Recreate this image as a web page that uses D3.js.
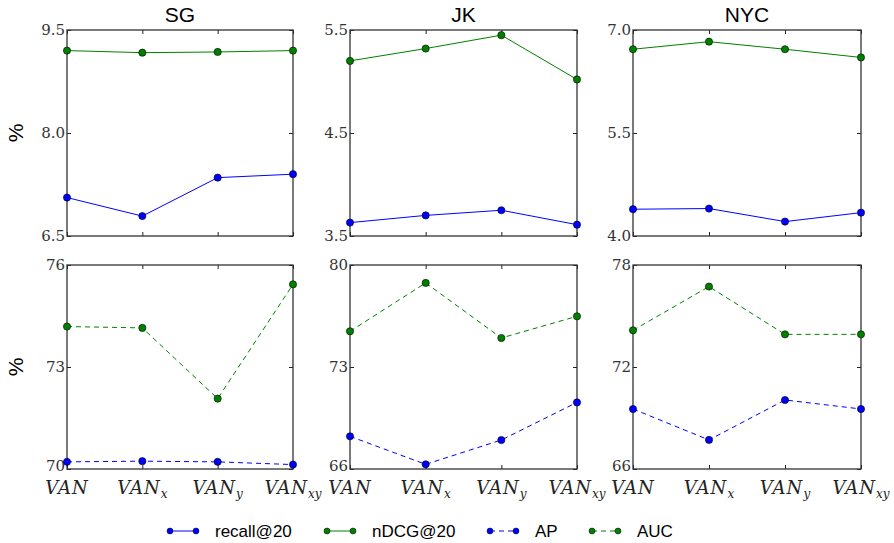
<!DOCTYPE html>
<html><head><meta charset="utf-8">
<script src="https://cdn.jsdelivr.net/npm/d3@7"></script>
<style>body{margin:0;background:#fff}
.serif{font-family:"DejaVu Serif",serif}
.sans{font-family:"Liberation Sans",Arial,Helvetica,sans-serif}
</style>
</head><body><svg id="c" width="894" height="543"></svg>
<script>
const categories = ["VAN","VAN_x","VAN_y","VAN_xy"];
const cities = ["SG","JK","NYC"];
// top row: recall@20 and nDCG@20 (%)
const recallSG = [7.06, 6.79, 7.35, 7.40];
const ndcgSG   = [9.20, 9.17, 9.18, 9.20];
const recallJK = [3.63, 3.70, 3.75, 3.61];
const ndcgJK   = [5.20, 5.32, 5.45, 5.02];
const recallNYC = [4.39, 4.40, 4.21, 4.34];
const ndcgNYC   = [6.72, 6.83, 6.72, 6.60];
// bottom row: AP and AUC (%)
const apSG  = [70.21, 70.23, 70.21, 70.13];
const aucSG = [74.19, 74.15, 72.07, 75.43];
const apJK  = [68.24, 66.32, 67.99, 70.57];
const aucJK = [75.45, 78.77, 74.99, 76.48];
const apNYC  = [69.53, 67.71, 70.06, 69.53];
const aucNYC = [74.16, 76.73, 73.92, 73.92];
// axis ticks
const topTicks = [[6.5, 8.0, 9.5],[3.5, 4.5, 5.5],[4.0, 5.5, 7.0]];
const botTicks = [[70, 73, 76],[66, 73, 80],[66, 72, 78]];
const legendLabels = ["recall@20","nDCG@20","AP","AUC"];

const BLUE = "#0000ff", GREEN = "#008000";
const svg = d3.select("#c");
const panelX = [[67,293],[350,577],[633,861]];
const rowY = [[30,236],[265,469]];
const topData = [[recallSG,ndcgSG],[recallJK,ndcgJK],[recallNYC,ndcgNYC]];
const botData = [[apSG,aucSG],[apJK,aucJK],[apNYC,aucNYC]];

function panel(ci, ri) {
  const [x0,x1] = panelX[ci], [y0,y1] = rowY[ri];
  const ticks = ri === 0 ? topTicks[ci] : botTicks[ci];
  const dec = ri === 0 ? 1 : 0;
  const x = d3.scalePoint().domain(categories).range([x0,x1]).padding(0);
  const y = d3.scaleLinear().domain([ticks[0], ticks[2]]).range([y1,y0]);
  const g = svg.append("g");
  const tl = 4;
  g.append("g").attr("transform",`translate(0,${y1})`)
    .call(d3.axisTop(x).tickSize(tl).tickFormat("")).call(a=>a.select(".domain").remove())
    .selectAll("line").attr("stroke","#222");
  g.append("g").attr("transform",`translate(0,${y0})`)
    .call(d3.axisBottom(x).tickSize(tl).tickFormat("")).call(a=>a.select(".domain").remove())
    .selectAll("line").attr("stroke","#222");
  const ly = g.append("g").attr("transform",`translate(${x0},0)`)
    .call(d3.axisRight(y).tickValues(ticks).tickSize(tl).tickFormat(""));
  ly.select(".domain").remove(); ly.selectAll("line").attr("stroke","#222");
  const ry = g.append("g").attr("transform",`translate(${x1},0)`)
    .call(d3.axisLeft(y).tickValues(ticks).tickSize(tl).tickFormat(""));
  ry.select(".domain").remove(); ry.selectAll("line").attr("stroke","#222");
  g.selectAll(".yl").data(ticks).enter().append("text").attr("class","serif")
    .attr("x", x0-2).attr("y", (d,i)=> y(d) - (ri===1 && i===0 ? 3 : 0)).attr("dy","0.35em")
    .attr("text-anchor","end")
    .attr("font-size",15).attr("fill","#333")
    .text(d=>d3.format(dec?".1f":"d")(d));
  g.append("rect").attr("x",x0).attr("y",y0).attr("width",x1-x0).attr("height",y1-y0)
    .attr("fill","none").attr("stroke","#333").attr("stroke-width",1.3);
  const data = ri === 0 ? topData[ci] : botData[ci];
  const colors = [BLUE, GREEN];
  data.forEach((vals,si)=>{
    const line = d3.line().x((d,i)=>x(categories[i])).y(d=>y(d));
    g.append("path").attr("d", line(vals)).attr("fill","none")
      .attr("stroke", colors[si]).attr("stroke-width",1)
      .attr("stroke-dasharray", ri===1 ? "5,4" : null);
    g.selectAll(null).data(vals).enter().append("circle")
      .attr("cx",(d,i)=>x(categories[i])).attr("cy",d=>y(d)).attr("r",3.6)
      .attr("fill",colors[si]).attr("stroke","#000").attr("stroke-width",0.6);
  });
  if (ri === 0) {
    svg.append("text").attr("class","sans").attr("x",(x0+x1)/2).attr("y",22).attr("text-anchor","middle")
      .attr("font-size",21).text(cities[ci]);
  } else {
    categories.forEach(c=>{
      const [base, sub] = c.split("_");
      const t = svg.append("text").attr("class","serif").attr("x", x(c)).attr("y",494).attr("text-anchor","middle")
        .attr("font-style","italic")
        .attr("font-size",18).attr("fill","#222");
      t.append("tspan").attr("letter-spacing",1).text(base);
      if (sub) t.append("tspan").attr("font-size",12).attr("dy",4).text(sub);
    });
  }
  if (ci === 0) {
    svg.append("text").attr("class","sans").attr("transform",`translate(23,${(y0+y1)/2}) rotate(-90)`)
      .attr("text-anchor","middle")
      .attr("font-size",21).text("%");
  }
}
for (let r=0;r<2;r++) for (let c=0;c<3;c++) panel(c,r);

// legend
const legX = [170, 327, 490, 592];
const legColors = [BLUE, GREEN, BLUE, GREEN];
const legDash = [null, null, "5,4", "5,4"];
legendLabels.forEach((lab,i)=>{
  const lx = legX[i], ly = 531;
  svg.append("line").attr("x1",lx).attr("x2",lx+26).attr("y1",ly).attr("y2",ly)
    .attr("stroke",legColors[i]).attr("stroke-width",1).attr("stroke-dasharray",legDash[i]);
  [lx, lx+26].forEach(cx=>svg.append("circle").attr("cx",cx).attr("cy",ly).attr("r",3)
    .attr("fill",legColors[i]).attr("stroke","#000").attr("stroke-width",0.5));
  svg.append("text").attr("class","sans").attr("x",lx+45).attr("y",ly).attr("dy","0.35em")
    .attr("font-size",17).text(lab);
});
</script></body></html>
